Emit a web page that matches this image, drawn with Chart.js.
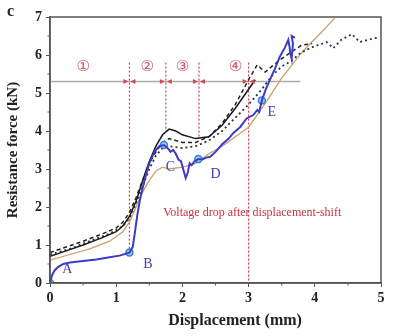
<!DOCTYPE html>
<html>
<head>
<meta charset="utf-8">
<script src="https://cdn.jsdelivr.net/npm/chart.js@4/dist/chart.umd.min.js"></script>
<style>
  html, body { margin: 0; padding: 0; background: #fff; }
  #wrap { width: 400px; height: 336px; }
</style>
</head>
<body>
<div id="wrap"><canvas id="myChart"></canvas></div>
<script>
// curves: [displacement mm, force kN]
const blueCurve = [[0,0],[0.03,0.2],[0.07,0.33],[0.12,0.42],[0.2,0.5],[0.3,0.54],[0.5,0.58],[0.7,0.62],[0.9,0.68],[1.05,0.72],[1.2,0.8],[1.25,0.95],[1.28,1.3],[1.32,1.8],[1.36,2.2],[1.4,2.5],[1.45,2.85],[1.5,3.15],[1.55,3.35],[1.6,3.5],[1.65,3.6],[1.72,3.63],[1.78,3.55],[1.82,3.45],[1.86,3.5],[1.9,3.4],[1.94,3.25],[1.98,3.2],[2.02,2.95],[2.05,2.76],[2.08,2.9],[2.11,3.15],[2.14,3.1],[2.18,3.2],[2.24,3.26],[2.3,3.25],[2.36,3.3],[2.42,3.32],[2.5,3.45],[2.6,3.65],[2.7,3.8],[2.77,3.95],[2.87,4.1],[2.97,4.33],[3.07,4.42],[3.13,4.55],[3.16,4.5],[3.2,4.8],[3.26,5.1],[3.32,5.34],[3.4,5.65],[3.47,5.95],[3.55,6.2],[3.6,6.4],[3.62,6.2],[3.63,6.05],[3.65,5.9],[3.67,6.3],[3.65,6.5],[3.7,6.45]];
const blackSolid = [[0,0.7],[0.2,0.82],[0.5,1.0],[0.8,1.2],[1.0,1.35],[1.1,1.5],[1.2,1.75],[1.3,2.15],[1.4,2.7],[1.5,3.2],[1.6,3.6],[1.7,3.9],[1.8,4.05],[1.9,4.0],[2.0,3.9],[2.2,3.8],[2.4,3.85],[2.6,4.15],[2.8,4.6],[3.0,5.1],[3.1,5.35]];
const blackDashed = [[0,0.8],[0.2,0.92],[0.5,1.1],[0.8,1.3],[1.0,1.45],[1.1,1.6],[1.2,1.85],[1.3,2.25],[1.4,2.7],[1.5,3.15],[1.6,3.45],[1.7,3.7],[1.8,3.8],[1.9,3.75],[2.0,3.7],[2.2,3.7],[2.4,3.85],[2.6,4.2],[2.8,4.7],[3.0,5.35],[3.13,5.74],[3.25,5.55],[3.47,5.87],[3.8,6.26],[3.96,6.3]];
const blackDotted = [[0,0.75],[0.3,0.9],[0.6,1.1],[0.9,1.3],[1.1,1.5],[1.2,1.7],[1.3,2.1],[1.4,2.55],[1.5,3.0],[1.6,3.35],[1.7,3.55],[1.8,3.6],[2.0,3.55],[2.2,3.6],[2.4,3.75],[2.6,4.0],[2.8,4.35],[3.0,4.7],[3.2,5.1],[3.35,5.45],[3.5,5.7],[3.65,5.85],[3.78,6.05],[3.95,6.2],[4.18,6.34],[4.28,6.18],[4.4,6.4],[4.56,6.55],[4.68,6.34],[4.8,6.4],[4.98,6.47]];
const tanCurve = [[0,0.6],[0.3,0.75],[0.6,0.9],[0.9,1.1],[1.1,1.35],[1.2,1.6],[1.3,2.0],[1.4,2.4],[1.5,2.7],[1.6,2.95],[1.7,3.05],[1.8,3.0],[2.0,3.05],[2.2,3.15],[2.4,3.4],[2.6,3.6],[2.8,3.85],[3.0,4.1],[3.28,4.8],[3.5,5.4],[3.82,6.1],[4.1,6.6],[4.3,6.97]];

// marked points A..E
const markX = [0, 1.2, 1.72, 2.24, 3.2];
const markY = [0, 0.8, 3.63, 3.26, 4.8];
const markNames = ['A', 'B', 'C', 'D', 'E'];
const markNameX = [0.26, 1.48, 1.82, 2.5, 3.35];
const markNameY = [0.35, 0.5, 3.05, 2.85, 4.5];

// stage lines
const stageX = [1.2, 1.75, 2.25, 3.0];
const stageBottom = [0.8, 4.0, 3.8, 0];
const stageTop = 5.8;
const stageLineY = 5.3;
const stageLineEnd = 3.78;
const stageNames = ['①', '②', '③', '④'];
const stageNameX = [0.5, 1.47, 2.0, 2.8];
const stageNameY = 5.68;

const xTicks = [0, 1, 2, 3, 4, 5];
const yTicks = [0, 1, 2, 3, 4, 5, 6, 7];

const pts = arr => arr.map(p => ({x: p[0], y: p[1]}));

const datasets = [
    {data: pts(blueCurve), borderColor: '#3c3cc8', borderWidth: 2, pointRadius: 0},
    {data: markX.map((x, i) => ({x: x, y: markY[i]})), showLine: false, pointRadius: 3.5,
        pointBackgroundColor: '#8fd3f2', pointBorderColor: '#3a7fd0', pointBorderWidth: 1.5},
    {data: pts(blackSolid), borderColor: '#1a1a1a', borderWidth: 1.5, pointRadius: 0},
    {data: pts(blackDashed), borderColor: '#222', borderWidth: 1.5, borderDash: [4, 3], pointRadius: 0},
    {data: pts(blackDotted), borderColor: '#333', borderWidth: 1.8, borderDash: [2, 3], pointRadius: 0},
    {data: pts(tanCurve), borderColor: '#c9a06e', borderWidth: 1.3, pointRadius: 0},
    {data: [{x: 0, y: stageLineY}, {x: stageLineEnd, y: stageLineY}], borderColor: '#aaa', borderWidth: 1.5, pointRadius: 0},
];
stageX.forEach((x, i) => {
    datasets.push({data: [{x: x, y: stageTop}, {x: x, y: stageBottom[i]}],
        borderColor: '#d0404f', borderWidth: 1.2, borderDash: [2, 2], pointRadius: 0});
});

const extras = {
    id: 'extras',
    afterDatasetsDraw(chart) {
        const ctx = chart.ctx;
        const a = chart.chartArea;
        const xs = chart.scales.x, ys = chart.scales.y;
        ctx.save();
        // frame
        ctx.strokeStyle = '#555';
        ctx.lineWidth = 1.5;
        ctx.strokeRect(a.left, a.top, a.right - a.left, a.bottom - a.top);
        // minor ticks
        ctx.lineWidth = 1;
        for (let v = 0.5; v < 5; v += 1) {
            const px = xs.getPixelForValue(v);
            ctx.beginPath(); ctx.moveTo(px, a.bottom); ctx.lineTo(px, a.bottom + 2.5); ctx.stroke();
        }
        for (let v = 0.5; v < 7; v += 1) {
            const py = ys.getPixelForValue(v);
            ctx.beginPath(); ctx.moveTo(a.left, py); ctx.lineTo(a.left - 2.5, py); ctx.stroke();
        }
        // arrows on the stage line
        ctx.fillStyle = '#d04a5a';
        const ay = ys.getPixelForValue(stageLineY);
        stageX.forEach(x => {
            const px = xs.getPixelForValue(x);
            [-1, 1].forEach(s => {
                ctx.beginPath();
                ctx.moveTo(px + s * 1, ay);
                ctx.lineTo(px + s * 6, ay - 2.5);
                ctx.lineTo(px + s * 6, ay + 2.5);
                ctx.closePath(); ctx.fill();
            });
        });
        // stage numbers
        ctx.fillStyle = '#c85060';
        ctx.font = '15px "DejaVu Sans"';
        ctx.textAlign = 'center'; ctx.textBaseline = 'middle';
        stageNames.forEach((t, i) => {
            ctx.fillText(t, xs.getPixelForValue(stageNameX[i]), ys.getPixelForValue(stageNameY));
        });
        // point names
        ctx.fillStyle = '#4040b8';
        ctx.font = '14px "Liberation Serif"';
        markNames.forEach((t, i) => {
            ctx.fillText(t, xs.getPixelForValue(markNameX[i]), ys.getPixelForValue(markNameY[i]));
        });
        // note
        ctx.fillStyle = '#c8303f';
        ctx.font = '12px "Liberation Serif"';
        ctx.textAlign = 'left';
        ctx.fillText('Voltage drop after displacement-shift', xs.getPixelForValue(1.71), ys.getPixelForValue(1.84));
        // panel letter and x title
        ctx.fillStyle = '#222';
        ctx.font = 'bold 16px "Liberation Serif"';
        ctx.fillText('c', 7, 12);
        ctx.textAlign = 'center';
        ctx.font = 'bold 16px "Liberation Serif"';
        ctx.fillText('Displacement (mm)', 235, 321);
        ctx.restore();
    }
};

new Chart(document.getElementById('myChart'), {
    type: 'line',
    data: {datasets: datasets},
    options: {
        responsive: true,
        maintainAspectRatio: false,
        animation: false,
        layout: {padding: {top: 17, right: 19, left: 0, bottom: 0}},
        plugins: {legend: {display: false}, tooltip: {enabled: false}},
        scales: {
            x: {
                type: 'linear', min: 0, max: 5,
                afterFit: s => { s.height = 53; },
                afterBuildTicks: s => { s.ticks = xTicks.map(v => ({value: v})); },
                grid: {drawOnChartArea: false, tickLength: 4, color: '#555'},
                border: {color: '#555', width: 1.5},
                ticks: {color: '#222', padding: 3, font: {family: 'Liberation Serif', size: 14, weight: 'bold'}}
            },
            y: {
                type: 'linear', min: 0, max: 7,
                afterFit: s => { s.width = 50; },
                afterBuildTicks: s => { s.ticks = yTicks.map(v => ({value: v})); },
                grid: {drawOnChartArea: false, tickLength: 4, color: '#555'},
                border: {color: '#555', width: 1.5},
                ticks: {color: '#222', padding: 4, font: {family: 'Liberation Serif', size: 14, weight: 'bold'}},
                title: {display: true, text: 'Resistance force (kN)', color: '#222', padding: {top: 4, bottom: 0},
                    font: {family: 'Liberation Serif', size: 15, weight: 'bold'}}
            }
        }
    },
    plugins: [extras]
});
</script>
</body>
</html>
